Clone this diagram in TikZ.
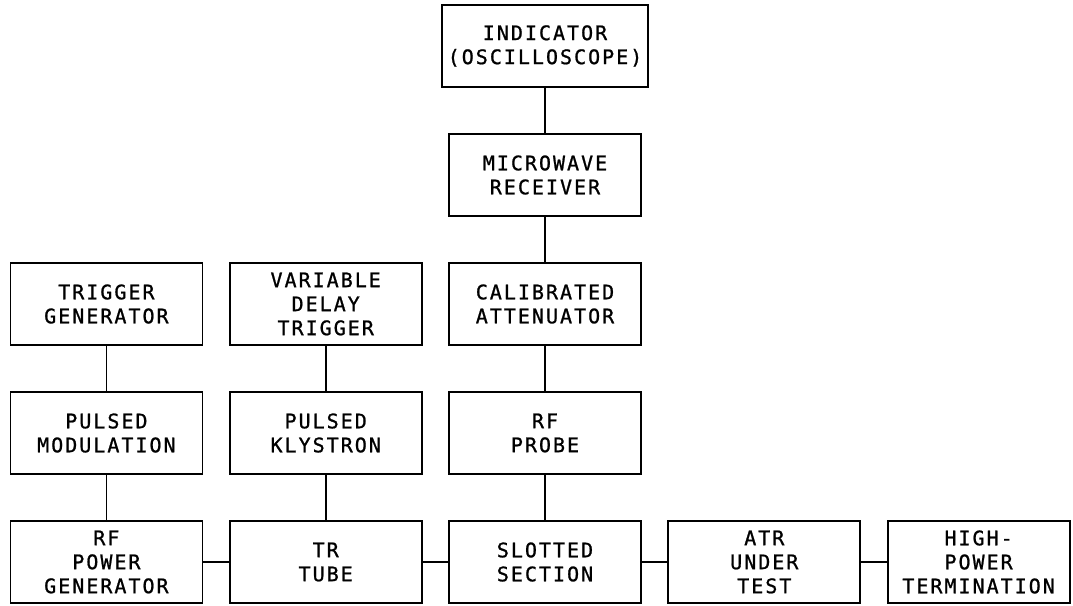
\documentclass[tikz,border=0pt]{standalone}
\usepackage{fontspec}
\usepackage{tikz}
\usetikzlibrary{positioning}
\newfontfamily\plotfont[LetterSpace=10,FakeBold=1]{DejaVu Sans Mono}

\begin{document}
\begin{tikzpicture}[
  x=1pt,y=1pt,
  node distance=45.7pt and 25.5pt,
  blk/.style={draw,line width=1.8pt,minimum width=192pt,minimum height=81.5pt,
              align=center,inner sep=2pt,
              font=\plotfont\fontsize{20}{24}\selectfont},
  ln/.style={line width=1.8pt}
]
\useasboundingbox (0,0) rectangle (1073,-605);

\node[blk] (slot) at (545,-562) {SLOTTED\\SECTION};
\node[blk,above=of slot] (probe) {RF\\PROBE};
\node[blk,above=of probe] (atten) {CALIBRATED\\ATTENUATOR};
\node[blk,above=of atten] (rcvr) {MICROWAVE\\RECEIVER};
\node[blk,above=of rcvr,minimum width=206pt] (ind) {INDICATOR\\(OSCILLOSCOPE)};

\node[blk,left=of slot] (tr) {TR\\TUBE};
\node[blk,above=of tr] (klys) {PULSED\\KLYSTRON};
\node[blk,above=of klys] (vdt) {VARIABLE\\DELAY\\TRIGGER};

\node[blk,left=of tr] (rfgen) {RF\\POWER\\GENERATOR};
\node[blk,above=of rfgen] (mod) {PULSED\\MODULATION};
\node[blk,above=of mod] (trig) {TRIGGER\\GENERATOR};

\node[blk,right=of slot] (atr) {ATR\\UNDER\\TEST};
\node[blk,right=of atr,minimum width=182pt] (term) {HIGH-\\POWER\\TERMINATION};

% vertical chains
\draw[ln] (ind) -- (rcvr);
\draw[ln] (rcvr) -- (atten);
\draw[ln] (atten) -- (probe);
\draw[ln] (probe) -- (slot);
\draw[ln] (vdt) -- (klys);
\draw[ln] (klys) -- (tr);
\draw[ln] (trig) -- (mod);
\draw[ln] (mod) -- (rfgen);

% waveguide run
\draw[ln] (rfgen) -- (tr);
\draw[ln] (tr) -- (slot);
\draw[ln] (slot) -- (atr);
\draw[ln] (atr) -- (term);
\end{tikzpicture}
\end{document}
